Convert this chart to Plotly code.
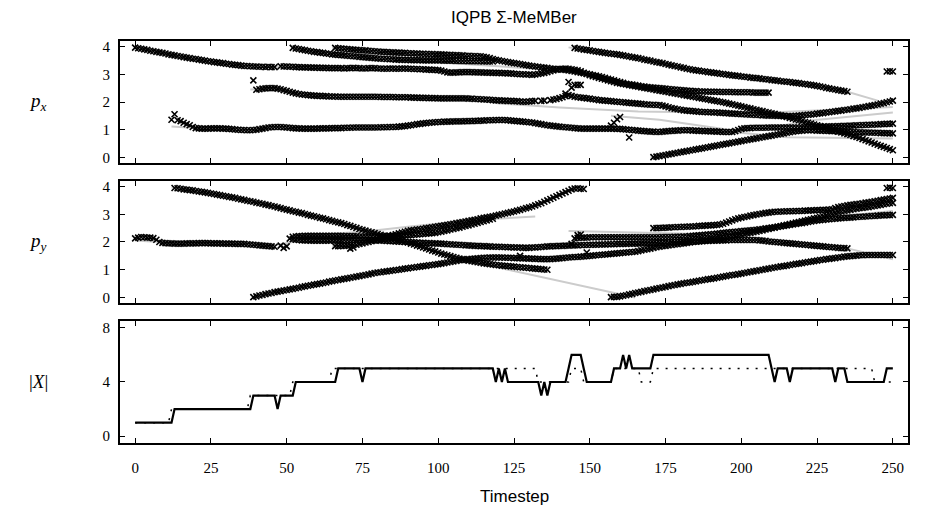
import plotly.graph_objects as go
from plotly.subplots import make_subplots

# ---------------- data ----------------
TIMESTEP_TICKS = [0, 25, 50, 75, 100, 125, 150, 175, 200, 225, 250]

# estimated p_x tracks (one value per timestep, starting at *_T0)
PX_A1_T0 = 0
PX_A1 = [3.96,3.94,3.92,3.90,3.88,3.85,3.83,3.81,3.79,3.77,3.75,3.72,3.70,
         3.68,3.66,3.64,3.62,3.60,3.58,3.56,3.55,3.53,3.51,3.49,3.47,
         3.46,3.44,3.43,3.41,3.40,3.38,3.37,3.35,3.34,3.33,3.31,
         3.30,3.30,3.29,3.28,3.28,3.27,3.27,3.26,3.27,3.26,3.26]
PX_A2_T0 = 48
PX_A2 = [3.29,3.28,3.28,3.27,3.27,3.26,3.26,3.25,3.25,3.25,
         3.24,3.24,3.24,3.23,3.23,3.23,3.22,3.22,3.22,3.22,
         3.22,3.21,3.22,3.22,3.23,3.22,3.22,3.21,3.21,3.22,
         3.22,3.22,3.21,3.21,3.20,3.20,3.21,3.21,3.20,3.20,
         3.21,3.21,3.20,3.20,3.19,3.19,3.18,3.18,3.17,3.17,
         3.16,3.16,3.15,3.13,3.10,3.07,3.06,3.06,3.07,3.07,
         3.08,3.08,3.08,3.08,3.07,3.07,3.07,3.06,3.06,3.06,
         3.05,3.05,3.05,3.04,3.04,3.03,3.03,3.02,3.01,3.00,
         3.00,2.99,2.99,2.98,2.99,3.01,3.03,3.05,3.08,3.11,
         3.14,3.17,3.19,3.20,3.21,3.20,3.18,3.16,3.14,3.11,
         3.05,3.01,2.97,2.93,2.90,2.87,2.84,2.81,2.78,2.75,
         2.72,2.69,2.67,2.65,2.63,2.61,2.59,2.57,2.55,2.53,
         2.51,2.49,2.47,2.45,2.43,2.41,2.39,2.37,2.35,2.33,
         2.31,2.29,2.27,2.25,2.23,2.21,2.19,2.17,2.15,2.13,
         2.11,2.09,2.07,2.05,2.03,2.01,1.99,1.97,1.94,1.92,
         1.89,1.87,1.84,1.82,1.79,1.77,1.74,1.72,1.69,1.67,
         1.64,1.62,1.59,1.57,1.54,1.52,1.49,1.46,1.43,1.40,
         1.37,1.34,1.31,1.28,1.25,1.22,1.19,1.16,1.13,1.10,
         1.07,1.04,1.00,0.97,0.93,0.90,0.87,0.84,0.81,0.77,
         0.74,0.70,0.66,0.62,0.58,0.54,0.50,0.46,0.42,0.38,
         0.34,0.30,0.26]
PX_B_T0 = 52
PX_B = [3.95,3.93,3.91,3.89,3.87,3.85,3.83,3.81,3.80,3.78,
        3.77,3.75,3.74,3.72,3.71,3.70,3.69,3.68,3.67,3.66,
        3.65,3.64,3.63,3.62,3.61,3.60,3.59,3.58,3.57,3.56,
        3.56,3.55,3.54,3.54,3.53,3.53,3.52,3.52,3.52,3.51,
        3.51,3.51,3.51,3.50,3.50,3.50,3.50,3.50,3.50,3.50,
        3.49,3.49,3.49,3.49,3.48,3.48,3.48,3.48,3.47,3.47,
        3.47,3.47,3.47,3.46,3.46,3.46,3.46]
PX_C_T0 = 66
PX_C = [3.95,3.94,3.93,3.92,3.91,3.90,3.89,3.88,3.87,3.86,
        3.86,3.85,3.84,3.83,3.82,3.81,3.81,3.80,3.79,3.79,
        3.78,3.78,3.77,3.77,3.76,3.76,3.75,3.75,3.74,3.74,
        3.73,3.73,3.73,3.72,3.72,3.72,3.71,3.70,3.70,3.69,
        3.69,3.68,3.68,3.67,3.67,3.66,3.66,3.65,3.65,3.63,
        3.61,3.58,3.55,3.52,3.50,3.48,3.46,3.44,3.42,3.40,
        3.39,3.37,3.35,3.33,3.31,3.30,3.28,3.27,3.25,3.24,
        3.23,3.21,3.20,3.19,3.18,3.17,3.16,3.14,3.12,3.10,
        3.08,3.06,3.04,3.02,3.00,2.97,2.95,2.93,2.90,2.87,
        2.84,2.81,2.78,2.75,2.72,2.69,2.66,2.64,2.63,2.61,
        2.59,2.57,2.56,2.54,2.53,2.52,2.51,2.50,2.49,2.48,
        2.47,2.46,2.45,2.44,2.43,2.42,2.41,2.40,2.39,2.39,
        2.38,2.38,2.38,2.37,2.37,2.37,2.37,2.36,2.36,2.36,
        2.36,2.36,2.35,2.35,2.35,2.35,2.35,2.35,2.34,2.34,
        2.34,2.34,2.34,2.34]
PX_D_T0 = 17
PX_D = [1.20,1.16,1.10,1.06,1.05,1.04,1.04,1.04,1.05,1.05,
        1.05,1.05,1.04,1.04,1.03,1.02,1.01,1.00,0.99,0.99,
        0.98,0.98,0.99,1.00,1.02,1.04,1.06,1.08,1.09,1.10,
        1.10,1.10,1.09,1.08,1.07,1.06,1.05,1.05,1.04,1.04,
        1.04,1.04,1.04,1.04,1.05,1.05,1.05,1.05,1.06,1.06,
        1.06,1.06,1.07,1.07,1.07,1.08,1.08,1.08,1.08,1.08,
        1.08,1.08,1.08,1.08,1.09,1.09,1.09,1.10,1.10,1.10,
        1.11,1.12,1.13,1.15,1.16,1.18,1.20,1.21,1.23,1.24,
        1.25,1.26,1.27,1.28,1.28,1.29,1.29,1.29,1.30,1.30,
        1.30,1.30,1.31,1.31,1.31,1.32,1.32,1.33,1.33,1.34,
        1.34,1.34,1.35,1.35,1.35,1.35,1.34,1.33,1.32,1.31,
        1.30,1.29,1.28,1.27,1.26,1.24,1.22,1.20,1.18,1.16,
        1.15,1.14,1.12,1.11,1.10,1.09,1.08,1.07,1.06,1.05,
        1.04,1.04,1.04,1.04,1.04,1.04,1.04,1.04,1.04,1.04,
        1.04,1.04,1.03,1.03,1.02,1.01,1.00,0.99,0.98,0.97,
        0.96,0.95,0.94,0.93,0.93,0.92,0.92,0.93,0.94,0.95,
        0.96,0.97,0.97,0.98,0.98,0.98,0.98,0.97,0.97,0.96,
        0.96,0.95,0.95,0.94,0.94,0.93,0.93,0.92,0.92,0.92,
        0.92,0.95,0.99,1.03,1.05,1.06,1.06,1.07,1.07,1.07,
        1.07,1.07,1.08,1.08,1.08,1.08,1.08,1.08,1.08,1.08,
        1.08,1.08,1.08,1.09,1.09,1.09,1.10,1.10,1.10,1.11,
        1.11,1.11,1.12,1.12,1.12,1.13,1.13,1.14,1.14,1.15,
        1.15,1.16,1.16,1.17,1.17,1.18,1.18,1.19,1.19,1.20,
        1.20,1.21,1.21,1.22]
PX_E_T0 = 40
PX_E = [2.44,2.46,2.48,2.49,2.50,2.50,2.50,2.48,2.46,2.43,
        2.40,2.37,2.34,2.31,2.29,2.27,2.26,2.25,2.24,2.23,
        2.22,2.22,2.21,2.21,2.20,2.20,2.20,2.19,2.19,2.19,
        2.19,2.19,2.19,2.19,2.19,2.19,2.19,2.19,2.19,2.19,
        2.19,2.18,2.18,2.18,2.18,2.18,2.17,2.17,2.17,2.17,
        2.17,2.16,2.16,2.16,2.15,2.15,2.15,2.14,2.14,2.14,
        2.13,2.13,2.13,2.13,2.13,2.13,2.13,2.13,2.13,2.13,
        2.12,2.12,2.11,2.11,2.10,2.09,2.09,2.08,2.07,2.06,
        2.06,2.05,2.05,2.04,2.04,2.03,2.03,2.02,2.01,2.01,
        2.02,2.03,2.04,None,2.04,2.05,None,2.07,2.09,2.11,
        2.14,2.17,2.21,2.25,2.22,2.19,2.17,2.16,2.15,2.13,
        2.12,2.10,2.09,2.07,2.06,2.05,2.04,2.03,2.02,2.01,
        2.00,1.99,1.98,1.97,1.96,1.95,1.94,1.93,1.92,1.91,
        1.90,1.90,1.89,1.89,1.87,1.84,1.81,1.78,1.76,1.74,
        1.72,1.70,1.69,1.68,1.67,1.66,1.65,1.64,1.64,1.63,
        1.63,1.62,1.62,1.61,1.61,1.60,1.59,1.58,1.58,1.57,
        1.56,1.56,1.55,1.54,1.54,1.53,1.53,1.52,1.52,1.51,
        1.51,1.51,1.50,1.50,1.50,1.49,1.49,1.49,1.50,1.51,
        1.52,1.53,1.54,1.55,1.56,1.58,1.59,1.60,1.62,1.63,
        1.65,1.66,1.68,1.69,1.71,1.72,1.74,1.76,1.77,1.79,
        1.81,1.83,1.85,1.87,1.89,1.91,1.94,1.96,1.99,2.02,
        2.05]
PX_F_T0 = 145
PX_F = [3.95,3.93,3.91,3.89,3.88,3.86,3.84,3.82,3.81,3.79,
        3.77,3.76,3.74,3.73,3.72,3.70,3.68,3.66,3.64,3.62,
        3.60,3.58,3.56,3.53,3.51,3.49,3.46,3.44,3.42,3.40,
        3.37,3.35,3.32,3.30,3.28,3.25,3.23,3.20,3.18,3.16,
        3.14,3.13,3.11,3.10,3.08,3.07,3.05,3.04,3.02,3.01,
        2.99,2.98,2.96,2.95,2.94,2.92,2.91,2.90,2.88,2.87,
        2.86,2.85,2.83,2.82,2.81,2.79,2.78,2.77,2.75,2.74,
        2.73,2.72,2.70,2.69,2.68,2.66,2.65,2.63,2.62,2.60,
        2.58,2.56,2.54,2.51,2.49,2.47,2.45,2.43,2.41,2.39,
        2.37]
PX_G_T0 = 171
PX_G = [0.01,0.03,0.05,0.07,0.09,0.11,0.13,0.15,0.17,0.19,
        0.21,0.23,0.25,0.27,0.29,0.31,0.33,0.35,0.37,0.39,
        0.41,0.43,0.45,0.47,0.49,0.51,0.53,0.55,0.57,0.59,
        0.61,0.63,0.65,0.67,0.69,0.71,0.73,0.75,0.77,0.79,
        0.81,0.83,0.85,0.87,0.89,0.91,0.93,0.95,0.96,0.97,
        0.98,0.98,0.98,0.98,0.97,0.97,0.97,0.96,0.96,0.95,
        0.95,0.94,0.94,0.93,0.93,0.92,0.92,0.91,0.91,0.90,
        0.90,0.90,0.89,0.89,0.89,0.88,0.88,0.88,0.87,0.87]
PX_N_T0 = 248
PX_N = [3.10, 3.11, 3.10]
PX_SPUR_T = [12, 13, 14, 15, 16, 39, 142, 143, 144, 145, 146, 147, 157, 158, 159, 160, 163]
PX_SPUR = [1.36, 1.56, 1.34, 1.31, 1.25, 2.78, 2.30, 2.72, 2.52, 2.62, 2.62, 2.62, 1.15, 1.25, 1.38, 1.46, 0.72]

# estimated p_y tracks
PY_A1_T0 = 0
PY_A1 = [2.13,2.16,2.18,2.17,2.16,2.16,2.14,2.08,2.00,1.97,
         1.96,1.95,1.95,1.94,1.94,1.94,1.94,1.95,1.95,1.95,
         1.95,1.96,1.96,1.96,1.96,1.95,1.95,1.95,1.95,1.94,
         1.94,1.94,1.94,1.93,1.93,1.93,1.93,1.92,1.91,1.90,
         1.89,1.88,1.87,1.86,1.85,1.84,1.83]
PY_A2_T0 = 51
PY_A2 = [2.12,2.10,2.08,2.07,2.06,2.06,2.06,2.05,2.05,2.05,
         2.05,2.05,2.05,2.05,2.06,2.06,2.06,2.06,2.07,2.07,
         2.07,2.08,2.08,2.08,2.08,2.08,2.07,2.07,2.06,2.06,
         2.05,2.05,2.04,2.03,2.03,2.02,2.01,2.01,2.00,2.00,
         1.99,1.99,1.98,1.97,1.97,1.96,1.96,1.95,1.95,1.94,
         1.94,1.93,1.92,1.92,1.91,1.90,1.90,1.89,1.88,1.88,
         1.87,1.86,1.86,1.85,1.85,1.84,1.84,1.83,1.83,1.83,
         1.82,1.82,1.81,1.81,1.80,1.80,1.80,1.79,1.79,1.79,
         1.80,1.80,1.81,1.82,1.83,1.84,1.84,1.85,1.85,1.86,
         1.86,1.87,1.87,1.88,1.88,1.88,1.89,1.89,1.89,1.90,
         1.90,1.90,1.91,1.91,1.91,1.92,1.92,1.92,1.93,1.93,
         1.93,1.93,1.94,1.94,1.94,1.94,1.95,1.95,1.95,1.95,
         1.96,1.96,1.97,1.97,1.98,1.98,1.99,1.99,2.00,2.00,
         2.01,2.01,2.01,2.02,2.02,2.03,2.03,2.04,2.04,2.05,
         2.05,2.05,2.06,2.06,2.06,2.07,2.07,2.07,2.07,2.07,
         2.07,2.07,2.07,2.07,2.07,2.06,2.05,2.04,2.02,2.01,
         2.00,1.99,1.98,1.97,1.96,1.95,1.94,1.93,1.92,1.91,
         1.90,1.89,1.88,1.87,1.86,1.85,1.84,1.83,1.82,1.81,
         1.80,1.79,1.78,1.78,1.77]
PY_B_T0 = 52
PY_B = [2.19,2.20,2.21,2.21,2.22,2.22,2.22,2.22,2.22,2.22,
        2.22,2.22,2.22,2.22,2.22,2.22,2.22,2.21,2.21,2.21,
        2.21,2.21,2.20,2.20,2.20,2.20,2.20,2.20,2.20,2.20,
        2.20,2.21,2.21,2.21,2.22,2.22,2.23,2.24,2.24,2.25,
        2.26,2.27,2.28,2.29,2.30,2.31,2.32,2.33,2.35,2.37,
        2.40,2.42,2.45,2.47,2.50,2.52,2.55,2.58,2.60,2.63,
        2.66,2.69,2.72,2.75,2.78,2.81,2.84]
PY_C_T0 = 66
PY_C = [1.85,1.85,1.86,1.86,1.87,1.88,1.89,1.90,1.93,1.95,
        1.98,2.00,2.03,2.06,2.09,2.12,2.15,2.18,2.22,2.25,
        2.28,2.31,2.34,2.37,2.40,2.42,2.43,2.45,2.46,2.48,
        2.50,2.51,2.53,2.55,2.57,2.58,2.60,2.62,2.64,2.66,
        2.68,2.70,2.72,2.74,2.76,2.78,2.80,2.82,2.85,2.87,
        2.89,2.91,2.93,2.95,2.98,3.00,3.03,3.05,3.08,3.10,
        3.13,3.16,3.19,3.22,3.25,3.28,3.32,3.36,3.40,3.45,
        3.50,3.55,3.60,3.65,3.70,3.75,3.80,3.85,3.90,3.93,
        3.94,3.92,3.91]
PY_D_T0 = 13
PY_D = [3.95,3.94,3.92,3.90,3.89,3.87,3.86,3.84,3.82,3.81,
        3.79,3.77,3.75,3.73,3.71,3.69,3.67,3.65,3.63,3.61,
        3.59,3.56,3.54,3.52,3.49,3.47,3.45,3.42,3.40,3.38,
        3.35,3.33,3.30,3.28,3.25,3.22,3.19,3.17,3.14,3.11,
        3.09,3.06,3.04,3.01,2.98,2.95,2.93,2.90,2.87,2.85,
        2.82,2.79,2.76,2.73,2.71,2.68,2.65,2.61,2.58,2.54,
        2.51,2.47,2.44,2.41,2.38,2.35,2.32,2.29,2.26,2.23,
        2.20,2.17,2.14,2.11,2.08,2.05,2.01,1.98,1.94,1.91,
        1.87,1.84,1.80,1.77,1.73,1.69,1.66,1.62,1.58,1.55,
        1.52,1.49,1.46,1.43,1.40,1.38,1.35,1.33,1.31,1.29,
        1.27,1.25,1.23,1.22,1.20,1.19,1.17,1.16,1.15,1.14,
        1.13,1.12,1.11,1.10,1.09,1.08,1.07,1.06,1.05,1.04,
        1.03,1.02,1.01,1.00]
PY_E_T0 = 39
PY_E = [0.01,0.04,0.07,0.09,0.12,0.14,0.16,0.19,0.21,0.23,
        0.25,0.27,0.29,0.31,0.33,0.35,0.38,0.40,0.42,0.44,
        0.46,0.48,0.50,0.52,0.54,0.57,0.59,0.61,0.63,0.65,
        0.67,0.69,0.71,0.73,0.75,0.77,0.79,0.81,0.83,0.86,
        0.88,0.90,0.91,0.93,0.94,0.96,0.97,0.99,1.00,1.02,
        1.04,1.05,1.07,1.08,1.10,1.11,1.13,1.14,1.16,1.17,
        1.19,1.20,1.22,1.24,1.26,1.28,1.30,1.32,1.34,1.35,
        1.37,1.38,1.39,1.40,1.41,1.42,1.43,1.43,1.44,1.44,
        1.44,1.44,1.44,1.43,1.43,1.43,1.42,1.42,1.42,1.41,
        1.41,1.40,1.40,1.39,1.39,1.38,1.38,1.38,1.38,1.39,
        1.40,1.41,1.42,1.43,1.44,1.45,1.46,1.46,1.47,1.48,
        1.49,1.50,1.51,1.52,1.53,1.54,1.55,1.56,1.57,1.58,
        1.59,1.60,1.61,1.62,1.63,1.64,1.65,1.67,1.70,1.72,
        1.74,1.76,1.79,1.81,1.83,1.85,1.86,1.88,1.89,1.91,
        1.92,1.94,1.95,1.97,1.98,2.00,2.01,2.02,2.04,2.05,
        2.07,2.08,2.10,2.11,2.12,2.14,2.16,2.18,2.20,2.22,
        2.24,2.26,2.28,2.31,2.33,2.35,2.37,2.40,2.42,2.45,
        2.47,2.50,2.52,2.55,2.57,2.60,2.62,2.65,2.67,2.70,
        2.72,2.75,2.77,2.80,2.82,2.85,2.87,2.90,2.93,2.96,
        2.99,3.02,3.05,3.08,3.10,3.12,3.14,3.16,3.18,3.20,
        3.22,3.23,3.25,3.26,3.28,3.30,3.32,3.34,3.36,3.38,
        3.40,3.41]
PY_F_T0 = 145
PY_F = [2.13,2.15,2.16,2.16,2.16,2.17,2.17,2.17,2.17,2.17,
        2.17,2.17,2.17,2.17,2.17,2.17,2.17,2.17,2.17,2.17,
        2.17,2.17,2.17,2.17,2.17,2.17,2.17,2.17,2.17,2.18,
        2.18,2.18,2.18,2.19,2.19,2.19,2.20,2.20,2.21,2.22,
        2.23,2.24,2.25,2.26,2.27,2.28,2.29,2.30,2.31,2.33,
        2.34,2.35,2.36,2.37,2.38,2.39,2.40,2.41,2.42,2.43,
        2.44,2.46,2.47,2.49,2.50,2.52,2.53,2.55,2.57,2.58,
        2.60,2.62,2.63,2.65,2.67,2.68,2.70,2.72,2.74,2.76,
        2.78,2.79,2.80,2.81,2.82,2.83,2.84,2.85,2.86,2.87,
        2.88,2.88,2.89,2.90,2.91,2.91,2.92,2.93,2.94,2.94,
        2.95,2.96,2.96,2.97,2.97,2.98]
PY_G_T0 = 171
PY_G = [2.50,2.50,2.51,2.51,2.52,2.52,2.53,2.53,2.54,2.54,
        2.55,2.55,2.56,2.56,2.57,2.58,2.58,2.59,2.60,2.60,
        2.61,2.62,2.63,2.66,2.70,2.74,2.78,2.82,2.85,2.88,
        2.90,2.92,2.95,2.97,2.99,3.01,3.03,3.05,3.06,3.08,
        3.09,3.09,3.10,3.10,3.11,3.11,3.11,3.12,3.12,3.12,
        3.13,3.13,3.14,3.14,3.15,3.15,3.16,3.16,3.17,3.18,
        3.22,3.26,3.28,3.30,3.32,3.34,3.35,3.37,3.38,3.40,
        3.42,3.43,3.45,3.47,3.49,3.51,3.53,3.55,3.57,3.59]
PY_H_T0 = 157
PY_H = [0.01,0.02,0.02,0.04,0.06,0.08,0.11,0.13,0.16,0.18,
        0.20,0.23,0.25,0.27,0.29,0.32,0.34,0.36,0.38,0.41,
        0.43,0.45,0.47,0.49,0.51,0.53,0.54,0.56,0.58,0.60,
        0.62,0.64,0.66,0.67,0.69,0.71,0.73,0.75,0.77,0.79,
        0.81,0.82,0.84,0.86,0.88,0.90,0.92,0.94,0.96,0.98,
        1.00,1.02,1.04,1.06,1.08,1.10,1.12,1.13,1.15,1.17,
        1.19,1.21,1.22,1.24,1.26,1.28,1.29,1.31,1.33,1.35,
        1.36,1.38,1.39,1.41,1.42,1.44,1.45,1.47,1.48,1.49,
        1.50,1.51,1.52,1.52,1.53,1.53,1.53,1.53,1.53,1.53,
        1.53,1.53,1.53,1.53]
PY_N_T0 = 248
PY_N = [3.95, 3.96, 3.95]
PY_SPUR_T = [48, 49, 50, 71, 72, 127, 144, 146, 147, 149]
PY_SPUR = [1.87, 1.79, 1.84, 1.76, 1.80, 1.50, 1.93, 2.25, 2.27, 1.62]

# ground-truth paths (light grey lines), given at key timesteps
TX_A_T = [0, 12, 24, 35, 46, 60, 90, 104, 123, 131, 142, 150, 164, 173, 183, 205, 227, 250]
TX_A = [3.97, 3.71, 3.48, 3.32, 3.27, 3.25, 3.21, 3.10, 3.06, 3.02, 3.12, 3.00, 2.64, 2.49, 2.24, 1.74, 1.10, 0.25]
TX_D_T = [12, 20, 37, 46, 60, 86, 100, 120, 136, 148, 172, 197, 215, 250]
TX_D = [1.12, 1.06, 0.99, 1.09, 1.05, 1.10, 1.27, 1.34, 1.17, 1.04, 0.93, 0.92, 0.73, 0.68]
TX_E_T = [38, 46, 57, 80, 100, 112, 120, 140, 166, 190, 210, 230, 250]
TX_E = [2.45, 2.49, 2.26, 2.19, 2.14, 2.10, 1.95, 1.80, 1.66, 1.62, 1.62, 1.72, 1.82]
TX_B_T = [52, 68, 87, 101, 115, 132]
TX_B = [3.96, 3.70, 3.52, 3.42, 3.30, 3.20]
TX_C_T = [65, 87, 114, 120, 131, 142, 148]
TX_C = [3.96, 3.78, 3.65, 3.50, 3.30, 3.16, 3.05]
TX_F_T = [143, 173, 184, 205, 219, 235, 245]
TX_F = [3.97, 3.42, 3.16, 2.86, 2.68, 2.37, 2.05]
TX_H_T = [157, 173, 197, 210, 222, 250]
TX_H = [1.50, 1.36, 0.98, 1.08, 1.32, 1.62]
TX_G_T = [170, 183, 210, 222, 250]
TX_G = [0.00, 0.25, 0.78, 0.98, 0.90]

TY_A_T = [0, 8, 20, 46, 52, 60, 80, 99, 120, 144, 172, 205, 216, 235, 250]
TY_A = [2.05, 2.00, 1.97, 1.88, 2.00, 2.06, 2.07, 1.95, 1.86, 1.90, 1.95, 2.07, 1.95, 1.77, 1.38]
TY_D_T = [12, 24, 35, 46, 57, 68, 75, 88, 101, 108, 123, 165]
TY_D = [3.97, 3.77, 3.53, 3.28, 2.98, 2.68, 2.44, 2.07, 1.58, 1.38, 1.00, 0.00]
TY_E_T = [39, 46, 57, 68, 79, 90, 101, 108, 120, 136, 147, 164, 173, 186, 205, 225, 250]
TY_E = [0.00, 0.20, 0.44, 0.66, 0.90, 1.05, 1.22, 1.35, 1.44, 1.38, 1.47, 1.65, 1.83, 1.97, 2.35, 2.85, 3.12]
TY_B_T = [52, 76, 90, 110, 132]
TY_B = [2.20, 2.38, 2.55, 2.78, 2.92]
TY_C_T = [65, 74, 86, 99, 121, 131, 142, 149]
TY_C = [1.85, 1.93, 2.28, 2.55, 3.00, 3.28, 3.83, 4.00]
TY_F_T = [143, 172, 183, 205, 227, 245]
TY_F = [2.40, 2.33, 2.30, 2.44, 2.80, 2.95]
TY_H_T = [157, 170, 186, 200, 216, 238, 250]
TY_H = [0.00, 0.25, 0.56, 0.85, 1.16, 1.53, 1.55]
TY_G_T = [170, 183, 194, 203, 210, 230, 250]
TY_G = [2.48, 2.56, 2.62, 2.93, 3.08, 3.20, 3.50]

# cardinality: estimated |X| (solid) and true (dotted), timesteps 0..250
CARD_EST = [1,1,1,1,1,1,1,1,1,1,1,1,1,
            2,2,2,2,2,2,2,2,2,2,2,2,2,2,2,2,2,2,2,2,2,2,2,2,2,2,
            3,3,3,3,3,3,3,3,2,3,3,3,3,3,
            4,4,4,4,4,4,4,4,4,4,4,4,4,4,
            5,5,5,5,5,5,5,5,4,
            5,5,5,5,5,5,5,5,5,5,5,5,5,5,5,5,5,5,5,5,5,5,5,5,5,5,5,5,5,5,5,5,5,5,5,5,5,5,5,5,5,5,5,
            4,5,4,5,
            4,4,4,4,4,4,4,4,4,4,4,
            3,4,3,
            4,4,4,4,4,4,
            5,6,6,6,6,5,
            4,4,4,4,4,4,4,4,4,
            5,5,5,6,5,6,
            5,5,5,5,5,5,5,
            6,6,6,6,6,6,6,6,6,6,6,6,6,6,6,6,6,6,6,6,6,6,6,6,6,6,6,6,6,6,6,6,6,6,6,6,6,6,6,
            5,4,5,5,5,5,4,
            5,5,5,5,5,5,5,5,5,5,5,5,5,5,
            4,5,5,5,
            4,4,4,4,4,4,4,4,4,4,4,4,4,
            5,5,5]
CARD_TRUE = [1,1,1,1,1,1,1,1,1,1,1,1,
             2,2,2,2,2,2,2,2,2,2,2,2,2,2,2,2,2,2,2,2,2,2,2,2,2,2,
             3,3,3,3,3,3,3,3,3,3,3,3,3,3,
             4,4,4,4,4,4,4,4,4,4,4,4,4,
             5,5,5,5,5,5,5,5,5,5,5,5,5,5,5,5,5,5,5,5,5,5,5,5,5,5,5,5,5,5,5,5,5,5,
             5,5,5,5,5,5,5,5,5,5,5,5,5,5,5,5,5,5,5,5,5,5,5,5,5,5,5,5,5,5,5,5,5,5,
             4,4,4,4,4,4,4,4,4,4,4,
             5,5,5,5,
             4,4,4,4,4,4,4,4,4,4,
             5,5,5,5,5,5,5,5,5,
             4,4,4,4,
             5,5,5,5,5,5,5,5,5,5,5,5,5,5,5,5,5,5,5,5,5,5,5,5,5,5,5,5,5,5,5,5,5,5,5,5,5,
             5,5,5,5,5,5,5,5,5,5,5,5,5,5,5,5,5,5,5,5,5,5,5,5,5,5,5,5,5,5,5,5,5,5,5,5,
             4,4,4,4,4,4,4]

# ---------------- figure ----------------
fig = make_subplots(rows=3, cols=1, shared_xaxes=True)

GREY = "#cccccc"
MARK = dict(symbol="x-thin", size=6, color="black", line=dict(width=1.6, color="black"))


def add_truth(ts, vals, row):
    fig.add_trace(go.Scatter(x=ts, y=vals, mode="lines", line=dict(color=GREY, width=2),
                             showlegend=False, hoverinfo="skip"), row=row, col=1)


def add_est(t0, vals, row):
    ts = list(range(t0, t0 + len(vals)))
    fig.add_trace(go.Scatter(x=ts, y=vals, mode="markers", marker=MARK,
                             showlegend=False), row=row, col=1)


for ts, vals in [(TX_A_T, TX_A), (TX_D_T, TX_D), (TX_E_T, TX_E), (TX_B_T, TX_B),
                 (TX_C_T, TX_C), (TX_F_T, TX_F), (TX_H_T, TX_H), (TX_G_T, TX_G)]:
    add_truth(ts, vals, 1)
for ts, vals in [(TY_A_T, TY_A), (TY_D_T, TY_D), (TY_E_T, TY_E), (TY_B_T, TY_B),
                 (TY_C_T, TY_C), (TY_F_T, TY_F), (TY_H_T, TY_H), (TY_G_T, TY_G)]:
    add_truth(ts, vals, 2)

for t0, vals in [(PX_A1_T0, PX_A1), (PX_A2_T0, PX_A2), (PX_B_T0, PX_B), (PX_C_T0, PX_C),
                 (PX_D_T0, PX_D), (PX_E_T0, PX_E), (PX_F_T0, PX_F), (PX_G_T0, PX_G), (PX_N_T0, PX_N)]:
    add_est(t0, vals, 1)
fig.add_trace(go.Scatter(x=PX_SPUR_T, y=PX_SPUR, mode="markers", marker=MARK, showlegend=False), row=1, col=1)

for t0, vals in [(PY_A1_T0, PY_A1), (PY_A2_T0, PY_A2), (PY_B_T0, PY_B), (PY_C_T0, PY_C),
                 (PY_D_T0, PY_D), (PY_E_T0, PY_E), (PY_F_T0, PY_F), (PY_G_T0, PY_G),
                 (PY_H_T0, PY_H), (PY_N_T0, PY_N)]:
    add_est(t0, vals, 2)
fig.add_trace(go.Scatter(x=PY_SPUR_T, y=PY_SPUR, mode="markers", marker=MARK, showlegend=False), row=2, col=1)

steps = list(range(len(CARD_EST)))
fig.add_trace(go.Scatter(x=steps, y=CARD_TRUE, mode="lines",
                         line=dict(color="black", width=1.5, dash="2px,7px"),
                         showlegend=False), row=3, col=1)
fig.add_trace(go.Scatter(x=steps, y=CARD_EST, mode="lines",
                         line=dict(color="black", width=2.2),
                         showlegend=False), row=3, col=1)

axis_common = dict(showline=True, linecolor="black", linewidth=2, mirror="allticks",
                   ticks="inside", ticklen=5, tickwidth=1, tickcolor="black",
                   showgrid=False, zeroline=False,
                   tickfont=dict(family="Liberation Serif", size=15, color="black"))

for i in (1, 2, 3):
    fig.update_xaxes(range=[-5, 255], tickvals=TIMESTEP_TICKS, row=i, col=1, **axis_common)
fig.update_xaxes(showticklabels=False, row=1, col=1)
fig.update_xaxes(showticklabels=False, row=2, col=1)
fig.update_xaxes(showticklabels=True, ticklabelstandoff=10, row=3, col=1)

fig.update_yaxes(range=[-0.2, 4.2], tickvals=[0, 1, 2, 3, 4], ticklabelstandoff=5, row=1, col=1, **axis_common)
fig.update_yaxes(range=[-0.2, 4.2], tickvals=[0, 1, 2, 3, 4], ticklabelstandoff=5, row=2, col=1, **axis_common)
fig.update_yaxes(range=[-0.5, 8.5], tickvals=[0, 4, 8], ticklabelstandoff=5, row=3, col=1, **axis_common)

fig.update_layout(
    yaxis=dict(domain=[0.6965, 1.0]),
    yaxis2=dict(domain=[0.3483, 0.6517]),
    yaxis3=dict(domain=[0.0, 0.3035]),
)

ann_font_math = dict(family="Liberation Serif", size=19, color="black")
annotations = [
    dict(text="IQPB \u03a3-MeMBer", x=0.5, y=1.0597, xref="paper", yref="paper",
         showarrow=False, xanchor="center", yanchor="middle",
         font=dict(family="Liberation Sans", size=17, color="black")),
    dict(text="Timestep", x=0.5, y=-0.1343, xref="paper", yref="paper",
         showarrow=False, xanchor="center", yanchor="middle",
         font=dict(family="Liberation Sans", size=17, color="black")),
    dict(text="<i>p</i><sub><i>x</i></sub>", x=-0.104, y=0.848, xref="paper", yref="paper",
         showarrow=False, xanchor="center", yanchor="middle", font=ann_font_math),
    dict(text="<i>p</i><sub><i>y</i></sub>", x=-0.104, y=0.5, xref="paper", yref="paper",
         showarrow=False, xanchor="center", yanchor="middle", font=ann_font_math),
    dict(text="|<i>X</i>|", x=-0.104, y=0.152, xref="paper", yref="paper",
         showarrow=False, xanchor="center", yanchor="middle", font=ann_font_math),
]

fig.update_layout(
    width=925, height=514,
    margin=dict(l=120, r=17, t=41, b=71),
    paper_bgcolor="white", plot_bgcolor="white",
    annotations=annotations,
    showlegend=False,
)

fig.write_html("out.html")
